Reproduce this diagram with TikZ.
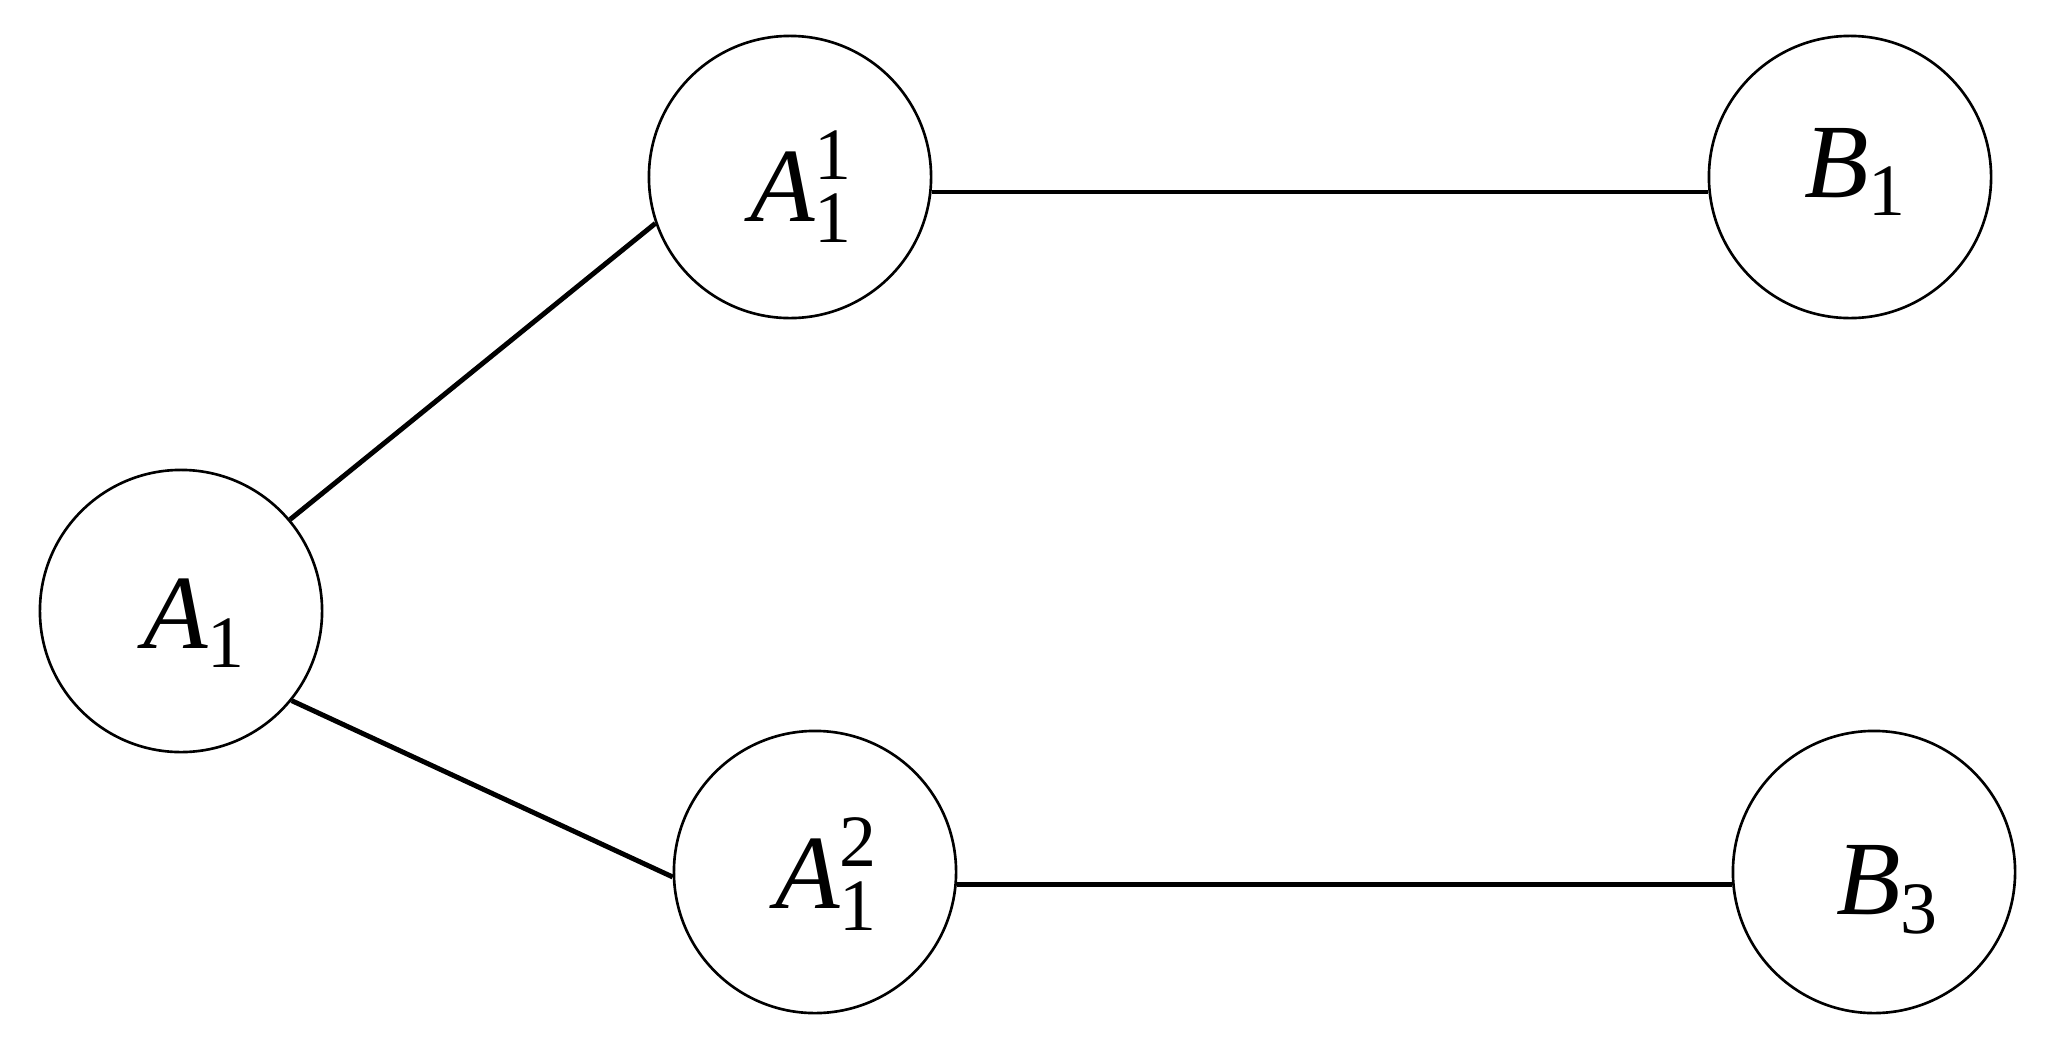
\documentclass[tikz,border=0pt]{standalone}
\usepackage{amsmath}
\usepackage{fontspec}
\setmainfont{Liberation Serif}
\begin{document}
\begin{tikzpicture}[x=0.01cm,y=-0.01cm,
  vert/.style={circle,draw=black,line width=0.75pt,minimum size=2.82cm,inner sep=0pt},
  lbl/.style={font=\fontsize{30}{36}\selectfont},
  edge/.style={draw=black,line width=1.2pt}]
\useasboundingbox (0,0) rectangle (2051,1048);
\node[vert,label={[lbl,shift={(0.14cm,-0.12cm)}]center:$\text{\itshape A}_{\text{1}}$}] (A1) at (181,611) {};
\node[vert,label={[lbl,shift={(0.12cm,-0.1cm)}]center:$\text{\itshape A}_{\text{1}}^{\text{1}}$}] (A11) at (790,177) {};
\node[vert,label={[lbl,shift={(0.12cm,-0.02cm)}]center:$\text{\itshape A}_{\text{1}}^{\text{2}}$}] (A12) at (815,872) {};
\node[vert,label={[lbl,shift={(0.06cm,0.05cm)}]center:$\text{\itshape B}_{\text{1}}$}] (B1) at (1850,177) {};
\node[vert,label={[lbl,shift={(0.14cm,-0.18cm)}]center:$\text{\itshape B}_{\text{3}}$}] (B3) at (1874,872) {};
\draw[edge,line width=1.4pt] (A1.40) -- (A11.199);
\draw[edge,line width=1.4pt] (A1.-39) -- (A12.182);
\draw[edge,line width=1.2pt] (A11.-6) -- (B1.186);
\draw[edge,line width=1.5pt] (A12.-5) -- (B3.185);
\end{tikzpicture}
\end{document}
